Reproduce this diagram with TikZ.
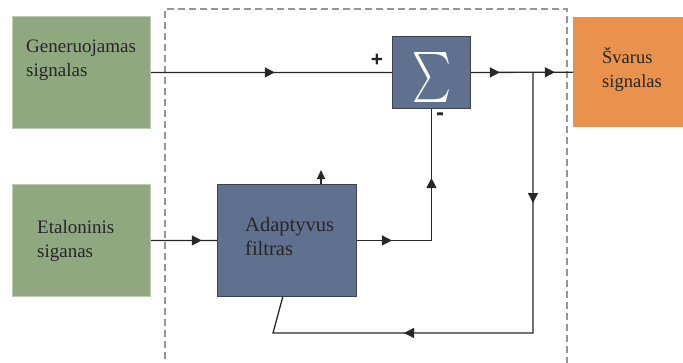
\documentclass[tikz,border=0pt]{standalone}
\usepackage{fontspec}
\usepackage{graphicx}
\setmainfont{Liberation Serif}
\newfontfamily\signfont{Liberation Sans}
\usetikzlibrary{arrows.meta,decorations.markings,calc}

\definecolor{srcgreen}{RGB}{143,168,128}
\definecolor{blockblue}{RGB}{96,112,143}
\definecolor{outorange}{RGB}{232,146,78}
\definecolor{wire}{RGB}{40,40,40}
\definecolor{framegray}{RGB}{150,150,150}
\definecolor{blockedge}{RGB}{60,66,80}

\tikzset{
  box/.style={anchor=north west, inner sep=0pt, minimum width=#1},
  greenbox/.style={fill=srcgreen, draw=srcgreen!60!white, line width=0.8pt},
  bluebox/.style={fill=blockblue, draw=blockedge, line width=0.9pt},
  label/.style={anchor=base west, align=left, inner sep=0pt,
    font=\fontsize{#1}{24}\selectfont, text=black!85},
  wireline/.style={draw=wire, line width=1.3pt},
  headat/.style={postaction={decorate, decoration={markings,
    mark=at position #1 with {\arrow{Triangle[length=10pt,width=10pt]}}}}},
  signtext/.style={font=\signfont\bfseries\fontsize{#1}{#1}\selectfont,
    inner sep=0pt, text=black!85},
}

\begin{document}
\begin{tikzpicture}[x=1pt, y=-1pt]
  \useasboundingbox (0,0) rectangle (683,362);

  % dashed frame around the processing part (open at the bottom)
  \draw[framegray, line width=1.4pt, dash pattern=on 7pt off 4pt]
    (165,370) -- (165,9) -- (567,9) -- (567,370);

  % blocks
  \node[box=138pt, minimum height=112pt, greenbox] (gen) at (12,16) {};
  \node[box=138pt, minimum height=112pt, greenbox] (etal) at (12,184) {};
  \node[box=139pt, minimum height=112pt, bluebox] (filt) at (217,184) {};
  \node[box=78pt, minimum height=72pt, bluebox] (sig) at (392,36) {};
  \node[box=110pt, minimum height=110pt, fill=outorange] (out) at (573,17) {};

  % block texts (anchored at the baseline of the second line)
  \node[label=19] (gentxt) at (26,76) {Generuojamas\\signalas};
  \node[label=19] (etaltxt) at (37,257) {Etaloninis\\siganas};
  \node[label=20.5] (filttxt) at (245,255) {Adaptyvus\\filtras};
  \node[label=18.5] (outtxt) at (602,87) {Švarus\\signalas};
  \node[text=white, inner sep=0pt] (sigsym) at (431.5,77)
    {\resizebox*{39pt}{50pt}{$\sum$}};

  % signs at the summing inputs
  \node[signtext=21] (plus) at (377,60) {+};
  \node[signtext=24] (minus) at (440,117) {-};

  % routing points
  \coordinate (jn) at (533,72);
  \coordinate (fbdown) at (533,333);
  \coordinate (fbleft) at (273,333);
  \coordinate (fbin) at (283,296);
  \coordinate (adj) at (321,170);
  \coordinate (fltcorner) at (sig.south |- filt.east);

  % connectors
  \draw[wireline, headat=124pt] (gen.east) -- (sig.west);
  \draw[wireline, headat=29pt, headat=84pt] (sig.east) -- (out.west);
  \draw[wireline, headat=51pt] (etal.east) -- (filt.west);
  \draw[wireline, headat=35pt, headat=137pt]
    (filt.east) -- (fltcorner) -- (sig.south);
  \draw[wireline, headat=131pt, headat=390pt]
    (jn) -- (fbdown) -- (fbleft) -- (fbin);
  \draw[wireline, -{Triangle[length=9pt,width=8pt]}] (adj |- filt.north) -- (adj);
\end{tikzpicture}
\end{document}
